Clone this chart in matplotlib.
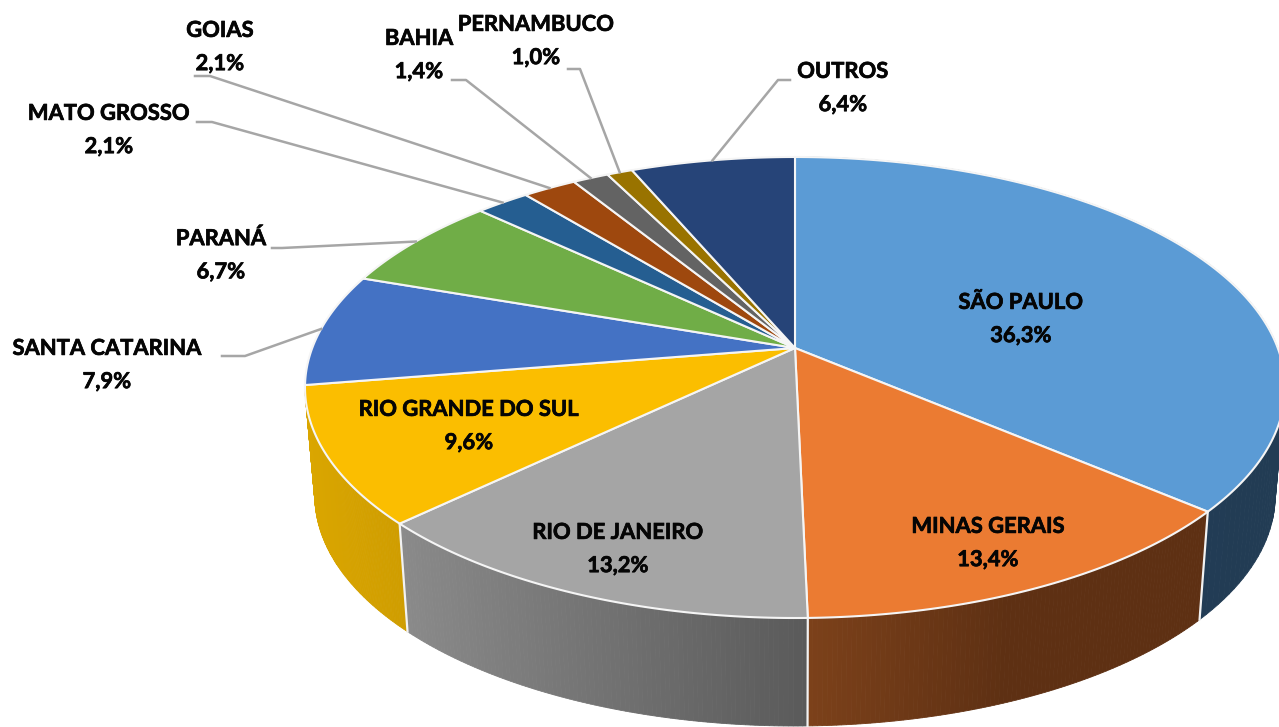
import numpy as np
import matplotlib
matplotlib.use("Agg")
import matplotlib.pyplot as plt
import matplotlib.patheffects as pe
from matplotlib.colors import to_rgb
from matplotlib.patches import Polygon

# Data
states = ["SÃO PAULO", "MINAS GERAIS", "RIO DE JANEIRO", "RIO GRANDE DO SUL",
          "SANTA CATARINA", "PARANÁ", "MATO GROSSO", "GOIAS", "BAHIA",
          "PERNAMBUCO", "OUTROS"]
shares = [36.3, 13.4, 13.2, 9.6, 7.9, 6.7, 2.1, 2.1, 1.4, 1.0, 6.4]

# Colours: top face, side face left, side face right
top_colors = ["#5B9BD5", "#EB7B32", "#A5A5A5", "#FBBE00", "#4472C4", "#70AD47",
              "#255E91", "#9E480E", "#636363", "#997300", "#264478"]
side_left = ["#243F58", "#7C411A", "#8A8A8A", "#DAA600"]
side_right = ["#223C54", "#5E3013", "#5A5A5A", "#CF9D00"]
# how far across the wall the shading runs before it goes flat
side_span = [1, 0.5, 1, 1]

# Layout in pixels: text centre and, for outside labels, the leader elbow
text_pos = [(1021, 319), (988, 543), (618, 549), (469, 426), (107, 365), (221, 255),
            (109, 130), (220, 47), (419, 55), (536, 41), (843, 88)]
elbows = [None, None, None, None, ((222, 356), (245, 356)), ((272, 248), (282, 248)),
          ((197, 122), (212, 122)), ((195, 76), (210, 76)), ((452, 80), (466, 80)),
          ((568, 69), (580, 69)), ((790, 80), (778, 80))]

# Perspective of the pie disc
cx, apex_y, top_y, front_y = 795, 348, 157, 618
half_w = 490
depth = 108
shrink = 0.98

persp = (top_y + front_y - 2 * apex_y) / (front_y - top_y)
back = top_y * (1 + persp) - apex_y
scale_x = half_w * np.sqrt(1 - persp ** 2)


def rim(frac):
    # frac is the clockwise share of the pie from 12 o'clock
    a = 2 * np.pi * np.asarray(frac)
    u, v = np.sin(a), np.cos(a)
    w = 1 + persp * v
    return cx + scale_x * u / w, (apex_y + back * v) / w


def lower(x, y):
    return cx + (x - cx) * shrink, y + depth


fig = plt.figure(figsize=(12.79, 7.27), dpi=100)
ax = fig.add_axes([0, 0, 1, 1])
ax.set_xlim(0, 1279)
ax.set_ylim(727, 0)
ax.axis("off")

edges = np.concatenate([[0], np.cumsum(shares)]) / sum(shares)

# Side wall, cut in thin strips for the shading (only the front slices show)
for i in range(len(side_left)):
    f = np.linspace(edges[i], edges[i + 1], 100)
    x, y = rim(f)
    xb, yb = lower(x, y)
    c0, c1 = np.array(to_rgb(side_left[i])), np.array(to_rgb(side_right[i]))
    t = (x - x.min()) / max(x.max() - x.min(), 1)
    t = np.clip(t / side_span[i], 0, 1)
    for j in range(len(f) - 1):
        col = c0 + (c1 - c0) * (t[j] + t[j + 1]) / 2
        ax.add_patch(Polygon([(x[j], y[j]), (x[j + 1], y[j + 1]), (xb[j + 1], yb[j + 1]), (xb[j], yb[j])],
                             facecolor=col, edgecolor=col, lw=0.6, zorder=1))

# White seams on the wall
for f in edges[1:4]:
    x, y = rim(f)
    xb, yb = lower(x, y)
    ax.plot([x, xb], [y, yb], color="#F2F2F2", lw=1.6, zorder=2)

# Top face
for i in range(len(shares)):
    f = np.linspace(edges[i], edges[i + 1], 200)
    x, y = rim(f)
    pts = np.column_stack([np.r_[cx, x], np.r_[apex_y, y]])
    ax.add_patch(Polygon(pts, facecolor=top_colors[i], edgecolor="#F5F5F5", lw=1.5, joinstyle="round", zorder=3))

# Leader lines and labels
for i, name in enumerate(states):
    if elbows[i] is not None:
        x, y = rim((edges[i] + edges[i + 1]) / 2)
        ax.plot([elbows[i][0][0], elbows[i][1][0], x], [elbows[i][0][1], elbows[i][1][1], y],
                color="#A6A6A6", lw=1.8, zorder=4)
    label = name + "\n" + f"{shares[i]:.1f}".replace(".", ",") + "%"
    ax.text(text_pos[i][0], text_pos[i][1], label, ha="center", va="center", family="Lato",
            fontweight="bold", fontsize=15.8, linespacing=1.72, color="#050505", zorder=5,
            path_effects=[pe.withStroke(linewidth=0.5, foreground="#050505")])

fig.savefig("out.png", dpi=100, facecolor="white")
